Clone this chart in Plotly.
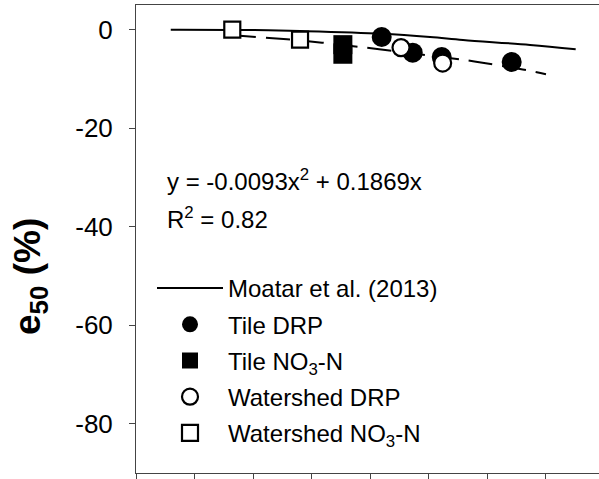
import plotly.graph_objects as go

# ---- data (x in arbitrary axis units; tick every 5 units, no tick labels) ----
moatar_x = [2.97, 9.03, 14.02, 21.0, 25.13, 27.95, 33.68, 37.58]
moatar_y = [0.0, -0.05, -0.3, -0.85, -1.5, -2.1, -3.1, -4.0]

fit_x = [8.21, 9.15, 12.91, 15.90, 19.06, 22.56, 24.53, 27.26, 29.06, 31.11, 33.42, 35.04]
fit_y = [-1.15, -1.3, -1.97, -2.64, -3.5, -4.5, -5.1, -5.9, -6.5, -7.3, -8.25, -9.07]

tile_drp_x = [21.0, 23.65, 26.13, 32.11]
tile_drp_y = [-1.5, -4.67, -5.56, -6.57]

tile_no3_x = [17.68, 17.68]
tile_no3_y = [-3.05, -5.0]

ws_drp_x = [22.65, 26.21]
ws_drp_y = [-3.65, -6.78]

ws_no3_x = [8.23, 14.02]
ws_no3_y = [0.0, -2.03]

y_tickvals = [0, -20, -40, -60, -80]
y_ticktext = ["0", "-20", "-40", "-60", "-80"]

FONT = "Liberation Sans, Arial, sans-serif"
W, H = 599, 479
L, R, T, B = 136, 0, 5, 6
PW, PH = W - L - R, H - T - B

fig = go.Figure()
fig.add_trace(go.Scatter(x=moatar_x, y=moatar_y, mode="lines", name="Moatar et al. (2013)",
                         line=dict(color="black", width=2, shape="spline"), legendgroup="a"))
fig.add_trace(go.Scatter(x=fit_x, y=fit_y, mode="lines", showlegend=False,
                         line=dict(color="black", width=2, dash="24px,10px", shape="spline")))
fig.add_trace(go.Scatter(x=tile_drp_x, y=tile_drp_y, mode="markers", name="Tile DRP", legendgroup="b",
                         marker=dict(symbol="circle", size=20, color="black", line=dict(width=0))))
fig.add_trace(go.Scatter(x=tile_no3_x, y=tile_no3_y, mode="markers", name="Tile NO<sub>3</sub>-N", legendgroup="c",
                         marker=dict(symbol="square", size=19, color="black", line=dict(width=0))))
fig.add_trace(go.Scatter(x=ws_drp_x, y=ws_drp_y, mode="markers", name="Watershed DRP", legendgroup="d",
                         marker=dict(symbol="circle", size=17, color="white", line=dict(width=2.2, color="black"))))
fig.add_trace(go.Scatter(x=ws_no3_x, y=ws_no3_y, mode="markers", name="Watershed NO<sub>3</sub>-N", legendgroup="e",
                         marker=dict(symbol="square", size=16, color="white", line=dict(width=2.2, color="black"))))

def px_x(p):
    return (p - L) / PW

def px_y(p):
    return (H - B - p) / PH

fig.add_annotation(text="y = -0.0093x<sup>2</sup> + 0.1869x", xref="paper", yref="paper",
                   x=px_x(165), y=px_y(180), xanchor="left", yanchor="middle", showarrow=False,
                   font=dict(family=FONT, size=24, color="black"))
fig.add_annotation(text="R<sup>2</sup> = 0.82", xref="paper", yref="paper",
                   x=px_x(165), y=px_y(218), xanchor="left", yanchor="middle", showarrow=False,
                   font=dict(family=FONT, size=24, color="black"))
fig.add_annotation(text="<b>e<sub>50</sub> (%)</b>", xref="paper", yref="paper",
                   x=px_x(30), y=px_y(277), xanchor="center", yanchor="middle", textangle=-90,
                   showarrow=False, font=dict(family=FONT, size=37, color="black"))

axis_col = "#444444"
fig.update_xaxes(range=[0, PW / 11.7], dtick=5, tick0=0, showticklabels=False, ticks="outside",
                 ticklen=6, tickcolor=axis_col, showline=True, linecolor=axis_col, linewidth=1,
                 mirror=True, showgrid=False, zeroline=False)
fig.update_yaxes(range=[-90, 5], tickvals=y_tickvals, ticktext=y_ticktext, ticks="outside",
                 ticklen=6, tickcolor=axis_col, showline=True, linecolor=axis_col, linewidth=1,
                 showgrid=False, zeroline=False, ticklabelstandoff=11,
                 tickfont=dict(family=FONT, size=26, color="black"))

fig.update_layout(
    width=W, height=H, margin=dict(l=L, r=R, t=T, b=B),
    plot_bgcolor="white", paper_bgcolor="white",
    font=dict(family=FONT, size=24, color="black"),
    legend=dict(x=px_x(152), y=px_y(266), xanchor="left", yanchor="top",
                bgcolor="rgba(0,0,0,0)", borderwidth=0, itemwidth=66, tracegroupgap=2,
                font=dict(family=FONT, size=24, color="black")),
)

fig.write_html("out.html")
